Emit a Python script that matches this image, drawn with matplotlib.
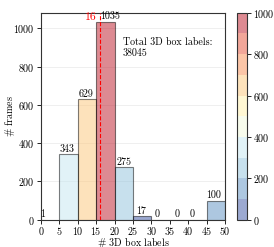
import numpy as np
import matplotlib
matplotlib.use("Agg")
import matplotlib.pyplot as plt
import matplotlib.colors as mcolors
import matplotlib.cm as cm

plt.rcParams.update({
    "font.family": "serif",
    "font.serif": ["cmr10"],
    "mathtext.fontset": "cm",
    "axes.formatter.use_mathtext": True,
    "font.size": 7.2,
})

# histogram of 3D box labels per frame
bin_edges = [0, 1, 5, 10, 15, 20, 25, 30, 35, 40, 45, 50]
counts    = [1, 0, 343, 629, 1035, 275, 17, 0, 0, 0, 100]
shown     = [True, False, True, True, True, True, True, True, True, True, True]
median_boxes = 16
total_boxes  = 38045

# small label nudges (data units)
label_nudge = [0, 0, -0.3, -0.3, 1.3, 0, -0.3, -1.0, -0.5, -1.5, -0.6]

fig = plt.figure(figsize=(2.74, 2.47), dpi=100)
ax  = fig.add_axes([0.1496, 0.1105, 0.6715, 0.8381])
cax = fig.add_axes([0.864, 0.1105, 0.0365, 0.8381])

base = plt.get_cmap("RdYlBu_r")
cmap = mcolors.ListedColormap([base((i + 0.5) / 10) for i in range(10)])
levels = np.arange(0, 1001, 100)
norm = mcolors.BoundaryNorm(levels, cmap.N)
alpha = 0.5

lefts = np.array(bin_edges[:-1])
widths = np.diff(bin_edges)
for l, w, c, s, nd in zip(lefts, widths, counts, shown, label_nudge):
    if not s:
        continue
    ax.bar(l, c, width=w, align="edge", color=cmap(norm(c)), alpha=alpha,
           edgecolor="k", linewidth=0.8, zorder=2)
    ax.text(l + w / 2 + nd, c + 2, str(c), ha="center", va="bottom", zorder=3)

ax.axvline(median_boxes, color="red", linestyle="--", linewidth=0.8, zorder=3)
ax.text(median_boxes - 0.9, 1035, str(median_boxes), color="red",
        ha="right", va="bottom", fontsize=8.5)

ax.text(22.2, 955, f"Total 3D box labels:\n{total_boxes}", ha="left", va="top",
        linespacing=1.3)

ax.set_xlim(0, 50)
ax.set_ylim(0, 1082)
ax.set_xticks(np.arange(0, 51, 5))
ax.set_yticks(np.arange(0, 1001, 200))
ax.grid(axis="y", color="#ececec", linewidth=0.6, zorder=0)
ax.set_axisbelow(True)
ax.set_xlabel(r"$\#$ 3D box labels", va="center")
ax.xaxis.set_label_coords(0.5, -0.11)
ax.set_ylabel(r"$\#$ frames", va="center")
ax.yaxis.set_label_coords(-0.17, 0.5)
ax.tick_params(length=3, width=0.6, pad=1.5)
ax.tick_params(axis="x", pad=0.5)
for sp in ax.spines.values():
    sp.set_color("#333333")
    sp.set_linewidth(0.8)

sm = cm.ScalarMappable(norm=norm, cmap=cmap)
cb = fig.colorbar(sm, cax=cax, alpha=alpha)
cb.set_ticks(np.arange(0, 1001, 200))
cb.ax.minorticks_off()
cb.ax.tick_params(length=3, width=0.6, pad=1.5)
cb.outline.set_linewidth(0.8)
cb.outline.set_edgecolor("#333333")

fig.savefig("out.png", dpi=100)
